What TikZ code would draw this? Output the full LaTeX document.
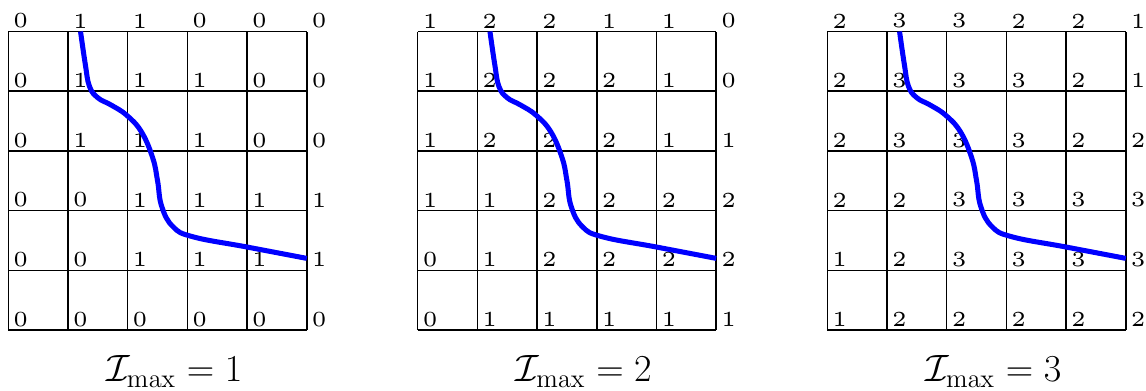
\documentclass[tikz,border=0pt]{standalone}
\usepackage{graphicx}
\newcommand\lbl[1]{\scalebox{2.05}{\fontsize{5}{6}\selectfont #1}}
\tikzset{
  gridline/.style={line width=0.7pt, black},
  vlabel/.style={anchor=south west, inner xsep=2.4pt, inner ysep=1.6pt, outer sep=0pt},
  pathcurve/.style={blue, line width=2.4pt},
  capnode/.style={anchor=base, scale=1.05, font=\LARGE}
}
\newcommand\gridpanel[3]{%
  \draw[gridline] (0,0) grid (5,5);
  \foreach \row [count=\r from 0] in {#2} {
    \foreach \v [count=\c from 0] in \row {
      \node[vlabel] (#1-\c-\r) at (\c,\r) {\lbl{\v}};
    }
  }
  \draw[pathcurve] plot[smooth, tension=0.7] coordinates {
    (1.21,5.0) (1.29,4.45) (1.36,4.08) (1.50,3.89) (1.72,3.77) (1.98,3.60)
    (2.23,3.32) (2.42,2.88) (2.50,2.50) (2.57,2.07) (2.76,1.73) (3.10,1.56)
    (4.0,1.39) (5.0,1.2)};
  \node[capnode] (#1-cap) at (2.78,-0.87) {$\mathcal{I}_{\max} = #3$};
}
\begin{document}
\begin{tikzpicture}
\useasboundingbox (-0.139,-1.005) rectangle (19.057,5.528);
\begin{scope}
\gridpanel{ga}{{0,0,0,0,0,0},{0,0,1,1,1,1},{0,0,1,1,1,1},{0,1,1,1,0,0},{0,1,1,1,0,0},{0,1,1,0,0,0}}{1}
\end{scope}
\begin{scope}[xshift=6.858cm]
\gridpanel{gb}{{0,1,1,1,1,1},{0,1,2,2,2,2},{1,1,2,2,2,2},{1,2,2,2,1,1},{1,2,2,2,1,0},{1,2,2,1,1,0}}{2}
\end{scope}
\begin{scope}[xshift=13.719cm]
\gridpanel{gc}{{1,2,2,2,2,2},{1,2,3,3,3,3},{2,2,3,3,3,3},{2,3,3,3,2,2},{2,3,3,3,2,1},{2,3,3,2,2,1}}{3}
\end{scope}
\end{tikzpicture}
\end{document}
